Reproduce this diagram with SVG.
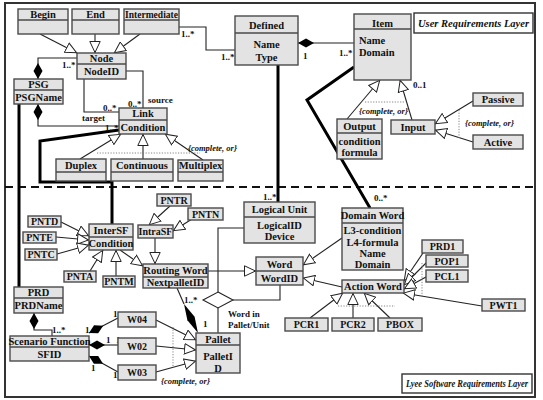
<svg xmlns="http://www.w3.org/2000/svg" width="543" height="400" viewBox="0 0 543 400">
<style>
.n rect{fill:#e3e3e3;stroke:#4a4a4a;stroke-width:1.4}
.n line{stroke:#4a4a4a;stroke-width:1.4}
text{font-family:"Liberation Serif","Times New Roman",serif;font-weight:bold;fill:#111}
.t{font-size:10.5px;text-anchor:middle}
.s{font-size:10px;text-anchor:middle}
.a{font-size:10.5px}
.m{font-size:9px}
.c{font-size:8.5px;font-style:italic}
.e{stroke:#222;stroke-width:1.1;fill:none}
.g{stroke:#222;stroke-width:1.1;fill:none;marker-end:url(#gen)}
.k{stroke:#222;stroke-width:1.1;fill:none;marker-start:url(#comp)}
.th{stroke:#000;stroke-width:3;fill:none}
.d{stroke:#777;stroke-width:0.9;stroke-dasharray:1.2,1.5;fill:none}
.lay{fill:#fff;stroke:#333;stroke-width:1.4}
.lt{font-size:10.5px;font-style:italic;text-anchor:middle}
.lt2{font-size:9.5px;font-style:italic;text-anchor:middle}
</style>
<defs>
<marker id="gen" viewBox="0 0 12 12" refX="12" refY="6" markerWidth="12" markerHeight="12" orient="auto" markerUnits="userSpaceOnUse">
<path d="M0.5,0.8 L11.5,6 L0.5,11.2 z" fill="#fff" stroke="#222" stroke-width="1"/>
</marker>
<marker id="comp" viewBox="0 0 16 10" refX="0" refY="5" markerWidth="16" markerHeight="10" orient="auto" markerUnits="userSpaceOnUse">
<path d="M0,5 L8,0.5 L16,5 L8,9.5 z" fill="#000"/>
</marker>
</defs>
<rect x="0" y="0" width="543" height="400" fill="#fff"/>
<rect x="5" y="3" width="530" height="394" fill="none" stroke="#333" stroke-width="2"/>
<line x1="5" y1="187" x2="535" y2="187" stroke="#111" stroke-width="2" stroke-dasharray="8,5"/>

<g id="connectors">
<path class="g" d="M40,34 L77,53"/>
<path class="g" d="M95,34 L95,53"/>
<path class="g" d="M140,34 L114,53"/>
<path class="g" d="M347,119 L380,80"/>
<path class="g" d="M412,120 L400,80"/>
<path class="g" d="M473,101 L435,124"/>
<path class="g" d="M473,142 L435,130"/>
<path class="g" d="M80,159 L121,134"/>
<path class="g" d="M143,159 L143,134"/>
<path class="g" d="M203,160 L165,134"/>
<path class="g" d="M170,206 L149,225"/>
<path class="g" d="M192,219 L173,231"/>
<path class="g" d="M155,238 L155,264"/>
<path class="g" d="M120,250 L143,266"/>
<path class="g" d="M90,271 L103,250"/>
<path class="g" d="M116,276 L116,250"/>
<path class="g" d="M61,222 L89,236"/>
<path class="g" d="M56,237 L89,240"/>
<path class="g" d="M57,254 L89,245"/>
<path class="g" d="M208,271 L256,271"/>
<path class="g" d="M342,238 L303,265"/>
<path class="g" d="M342,287 L303,278"/>
<path class="g" d="M310,318 L343,293"/>
<path class="g" d="M353,318 L353,293"/>
<path class="g" d="M390,318 L364,293"/>
<path class="g" d="M423,253 L404,281"/>
<path class="g" d="M426,263 L404,285"/>
<path class="g" d="M426,277 L404,289"/>
<path class="g" d="M482,306 L403,293"/>
<path class="g" d="M156,320 L196,340"/>
<path class="g" d="M156,346 L196,350"/>
<path class="g" d="M156,372 L196,361"/>

<path class="d" d="M365,102 L405,102"/>
<path class="d" d="M459,110 L459,138"/>
<path class="d" d="M97,153 L200,153"/>
<path class="d" d="M338,306 L395,306"/>
<path class="d" d="M422,263 L422,298"/>
<path class="d" d="M173,327 L173,367"/>

<path class="e" d="M179,27 L206,27 L206,50 L235,50"/>
<path class="k" d="M298,43 L354,43"/>
<path class="e" d="M126,71 L143,71 L143,108"/>
<path class="e" d="M84,79 L84,112 L119,112"/>
<path class="k" d="M38,79 L38,58 L77,58"/>
<path class="k" d="M38,104 L38,126 L119,126"/>
<path class="k" d="M34,313 L34,330 L52,330 L52,336"/>
<path class="k" d="M89,333 L118,318"/>
<path class="k" d="M89,345 L118,345"/>
<path class="k" d="M89,356 L118,372"/>
<path class="e" d="M244,228 L218,228 L218,292"/>
<polygon points="218,292 233,300 218,308 203,300" fill="#fff" stroke="#222" stroke-width="1.1"/>
<path class="e" d="M233,300 L280,300 L280,285"/>
<path class="e" d="M218,308 L218,333"/>
<path class="e" d="M177,288 L184,304"/>
<polygon points="198,333 194.6,316.8 184,304 187.4,320.2" fill="#000"/>

<path class="th" d="M278,65 L278,202"/>
<path class="th" d="M354,67 L307,100 L370,208"/>
<path class="th" d="M119,130 L40,141 L40,182 L112,182 L112,224"/>
<path class="th" d="M19,104 L19,287"/>

<text class="m" x="181" y="37">1..*</text>
<text class="m" x="221" y="60">1..*</text>
<text class="m" x="303" y="59">1</text>
<text class="m" x="339" y="56">1..*</text>
<text class="m" x="413" y="88">0..1</text>
<text class="m" x="62" y="68">1..*</text>
<text class="m" x="128" y="107">0..*</text>
<text class="m" x="148" y="103">source</text>
<text class="m" x="103" y="111">0..*</text>
<text class="m" x="82" y="121">target</text>
<text class="m" x="105" y="131">1..*</text>
<text class="m" x="263" y="200">1..*</text>
<text class="m" x="374" y="201">0..*</text>
<text class="m" x="184" y="303">1..*</text>
<text class="m" x="203" y="327">1</text>
<text class="m" x="52" y="333">1..*</text>
<text class="m" x="85" y="333">1</text>
<text class="m" x="113" y="317">1</text>
<text class="m" x="106" y="343">1</text>
<text class="m" x="116" y="343">1</text>
<text class="m" x="91" y="371">1</text>
<text class="m" x="113" y="378">1</text>
<text class="m" x="228" y="317">Word in</text>
<text class="m" x="228" y="328">Pallet/Unit</text>
<text class="c" x="359" y="114">{complete, or}</text>
<text class="c" x="465" y="126">{complete, or}</text>
<text class="c" x="188" y="151">{complete, or}</text>
<text class="c" x="161" y="384">{complete, or}</text>
</g>

<g id="begin" class="n"><rect x="18" y="9" width="50" height="25"/><line x1="18" y1="20" x2="68" y2="20"/><text class="t" x="43" y="18">Begin</text></g>
<g id="end" class="n"><rect x="72" y="9" width="47" height="25"/><line x1="72" y1="20" x2="119" y2="20"/><text class="t" x="95.5" y="18">End</text></g>
<g id="intermediate" class="n"><rect x="124" y="9" width="55" height="25"/><line x1="124" y1="20" x2="179" y2="20"/><text class="t" x="151.5" y="18" textLength="53" lengthAdjust="spacingAndGlyphs">Intermediate</text></g>
<g id="node" class="n"><rect x="77" y="53" width="49" height="26"/><line x1="77" y1="64" x2="126" y2="64"/><text class="t" x="101.5" y="62">Node</text><text class="t" x="101.5" y="75">NodeID</text></g>
<g id="psg" class="n"><rect x="14" y="79" width="49" height="25"/><line x1="14" y1="90" x2="63" y2="90"/><text class="t" x="38.5" y="88">PSG</text><text class="t" x="38.5" y="101">PSGName</text></g>
<g id="link" class="n"><rect x="119" y="108" width="48" height="26"/><line x1="119" y1="120" x2="167" y2="120"/><text class="t" x="143" y="117">Link</text><text class="t" x="143" y="131">Condition</text></g>
<g id="defined" class="n"><rect x="235" y="16" width="63" height="49"/><line x1="235" y1="33" x2="298" y2="33"/><text class="t" x="266.5" y="29">Defined</text><text class="t" x="266.5" y="48">Name</text><text class="t" x="266.5" y="61">Type</text></g>
<g id="item" class="n"><rect x="354" y="14" width="57" height="66"/><line x1="354" y1="29" x2="411" y2="29"/><text class="t" x="382.5" y="27">Item</text><text class="a" x="359" y="44">Name</text><text class="a" x="359" y="56">Domain</text></g>
<g id="output" class="n"><rect x="337" y="119" width="45" height="40"/><line x1="337" y1="133" x2="382" y2="133"/><text class="t" x="359.5" y="130">Output</text><text class="t" x="359.5" y="145">condition</text><text class="t" x="359.5" y="156">formula</text></g>
<g id="input" class="n"><rect x="391" y="120" width="44" height="14"/><text class="t" x="413" y="131">Input</text></g>
<g id="passive" class="n"><rect x="473" y="93" width="50" height="13"/><text class="t" x="498" y="103">Passive</text></g>
<g id="active" class="n"><rect x="473" y="135" width="50" height="14"/><text class="t" x="498" y="146">Active</text></g>
<g id="duplex" class="n"><rect x="56" y="159" width="50" height="22"/><line x1="56" y1="172" x2="106" y2="172"/><text class="t" x="81" y="169">Duplex</text></g>
<g id="continuous" class="n"><rect x="111" y="159" width="62" height="22"/><line x1="111" y1="172" x2="173" y2="172"/><text class="t" x="142" y="169">Continuous</text></g>
<g id="multiplex" class="n"><rect x="178" y="160" width="45" height="21"/><line x1="178" y1="172" x2="223" y2="172"/><text class="t" x="200.5" y="169">Multiplex</text></g>
<g id="logical-unit" class="n"><rect x="244" y="202" width="71" height="41"/><line x1="244" y1="217" x2="315" y2="217"/><text class="t" x="279.5" y="213">Logical Unit</text><text class="t" x="279.5" y="229">LogicalID</text><text class="t" x="279.5" y="240">Device</text></g>
<g id="domain-word" class="n"><rect x="342" y="208" width="61" height="62"/><line x1="342" y1="223" x2="403" y2="223"/><text class="t" x="372.5" y="219">Domain Word</text><text class="t" x="372.5" y="234">L3-condition</text><text class="t" x="372.5" y="246">L4-formula</text><text class="t" x="372.5" y="257">Name</text><text class="t" x="372.5" y="268">Domain</text></g>
<g id="pntr" class="n"><rect x="157" y="194" width="34" height="12"/><text class="s" x="174" y="203.5">PNTR</text></g>
<g id="pntn" class="n"><rect x="188" y="208" width="35" height="12"/><text class="s" x="205.5" y="217.5">PNTN</text></g>
<g id="intrasf" class="n"><rect x="138" y="225" width="35" height="13"/><text class="s" x="155.5" y="235">IntraSF</text></g>
<g id="intersf" class="n"><rect x="89" y="224" width="44" height="26"/><line x1="89" y1="237" x2="133" y2="237"/><text class="t" x="111" y="234">InterSF</text><text class="t" x="111" y="247">Condition</text></g>
<g id="routing-word" class="n"><rect x="143" y="264" width="65" height="24"/><line x1="143" y1="277" x2="208" y2="277"/><text class="t" x="175.5" y="274">Routing Word</text><text class="t" x="175.5" y="286">NextpalletID</text></g>
<g id="pnta" class="n"><rect x="64" y="271" width="32" height="11"/><text class="s" x="80" y="280">PNTA</text></g>
<g id="pntm" class="n"><rect x="103" y="276" width="32" height="11"/><text class="s" x="119" y="285">PNTM</text></g>
<g id="pntd" class="n"><rect x="28" y="216" width="33" height="11"/><text class="s" x="44.5" y="225">PNTD</text></g>
<g id="pnte" class="n"><rect x="23" y="232" width="33" height="11"/><text class="s" x="39.5" y="241">PNTE</text></g>
<g id="pntc" class="n"><rect x="25" y="249" width="32" height="11"/><text class="s" x="41" y="258">PNTC</text></g>
<g id="word" class="n"><rect x="256" y="257" width="47" height="28"/><line x1="256" y1="271" x2="303" y2="271"/><text class="t" x="279.5" y="268">Word</text><text class="t" x="279.5" y="282">WordID</text></g>
<g id="action-word" class="n"><rect x="342" y="280" width="62" height="13"/><text class="t" x="373" y="290">Action Word</text></g>
<g id="pcr1" class="n"><rect x="285" y="318" width="43" height="13"/><text class="s" x="306.5" y="328">PCR1</text></g>
<g id="pcr2" class="n"><rect x="332" y="318" width="42" height="13"/><text class="s" x="353" y="328">PCR2</text></g>
<g id="pbox" class="n"><rect x="378" y="318" width="44" height="13"/><text class="s" x="400" y="328">PBOX</text></g>
<g id="prd1" class="n"><rect x="422" y="240" width="41" height="13"/><text class="s" x="442.5" y="250">PRD1</text></g>
<g id="pop1" class="n"><rect x="426" y="255" width="42" height="12"/><text class="s" x="447" y="264.5">POP1</text></g>
<g id="pcl1" class="n"><rect x="426" y="270" width="42" height="12"/><text class="s" x="447" y="279.5">PCL1</text></g>
<g id="pwt1" class="n"><rect x="482" y="299" width="43" height="12"/><text class="s" x="503.5" y="308.5">PWT1</text></g>
<g id="pallet" class="n"><rect x="196" y="333" width="44" height="40"/><line x1="196" y1="345" x2="240" y2="345"/><text class="t" x="218" y="343">Pallet</text><text class="t" x="218" y="360">PalletI</text><text class="t" x="218" y="372">D</text></g>
<g id="prd" class="n"><rect x="14" y="287" width="49" height="26"/><line x1="14" y1="298" x2="63" y2="298"/><text class="t" x="38.5" y="296">PRD</text><text class="t" x="38.5" y="309">PRDName</text></g>
<g id="scenario-function" class="n"><rect x="10" y="336" width="79" height="25"/><line x1="10" y1="347" x2="89" y2="347"/><text class="t" x="49.5" y="345">Scenario Function</text><text class="t" x="49.5" y="358">SFID</text></g>
<g id="w04" class="n"><rect x="118" y="312" width="38" height="15"/><text class="s" x="137" y="323">W04</text></g>
<g id="w02" class="n"><rect x="118" y="338" width="38" height="16"/><text class="s" x="137" y="349.5">W02</text></g>
<g id="w03" class="n"><rect x="118" y="365" width="38" height="15"/><text class="s" x="137" y="376">W03</text></g>

<g id="user-layer"><rect class="lay" x="414" y="13" width="119" height="20"/><text class="lt" x="473.5" y="27" textLength="111" lengthAdjust="spacingAndGlyphs">User Requirements Layer</text></g>
<g id="lyee-layer"><rect class="lay" x="402" y="374" width="130" height="19"/><text class="lt2" x="467" y="387" textLength="122" lengthAdjust="spacingAndGlyphs">Lyee Software Requirements Layer</text></g>
</svg>
